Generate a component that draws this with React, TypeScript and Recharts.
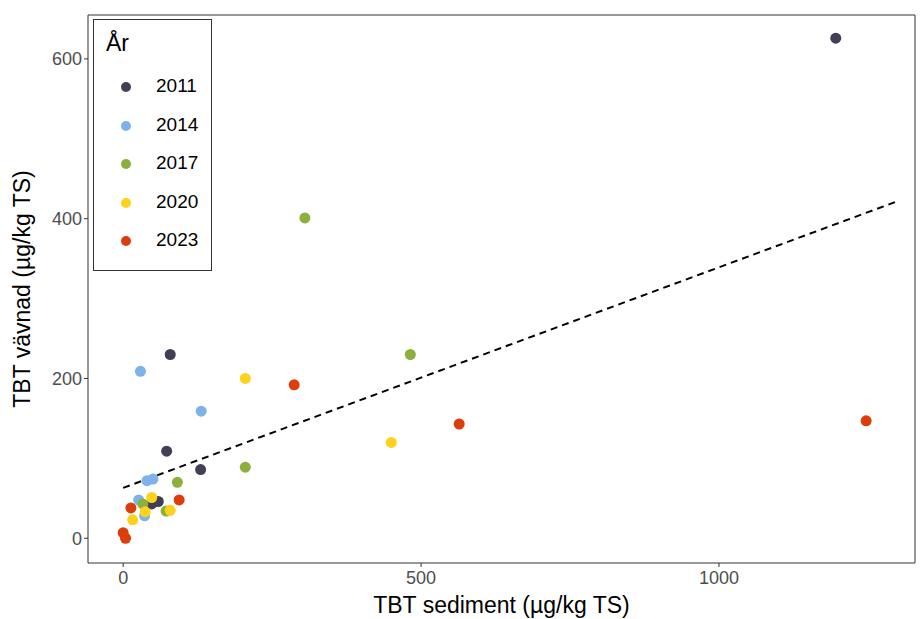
import {
  ScatterChart,
  Scatter,
  XAxis,
  YAxis,
  ReferenceArea,
  ReferenceLine,
} from "recharts";

type Pt = { x: number; y: number };

const YEARS = ["2011", "2014", "2017", "2020", "2023"];
const COLORS = ["#403f56", "#7db3e8", "#8db03c", "#fcd21c", "#dd3d0b"];

const y2011: Pt[] = [
  { x: 1196, y: 626 },
  { x: 79, y: 230 },
  { x: 73, y: 109 },
  { x: 130, y: 86 },
  { x: 59, y: 46 },
  { x: 48, y: 43 },
];
const y2014: Pt[] = [
  { x: 29, y: 209 },
  { x: 131, y: 159 },
  { x: 50, y: 74 },
  { x: 40, y: 72 },
  { x: 26, y: 48 },
  { x: 36, y: 28 },
];
const y2017: Pt[] = [
  { x: 305, y: 401 },
  { x: 482, y: 230 },
  { x: 205, y: 89 },
  { x: 91, y: 70 },
  { x: 33, y: 43 },
  { x: 72, y: 34 },
];
const y2020: Pt[] = [
  { x: 205, y: 200 },
  { x: 450, y: 120 },
  { x: 48, y: 51 },
  { x: 37, y: 33 },
  { x: 79, y: 35 },
  { x: 16, y: 23 },
];
const y2023: Pt[] = [
  { x: 287, y: 192 },
  { x: 564, y: 143 },
  { x: 1247, y: 147 },
  { x: 94, y: 48 },
  { x: 13, y: 38 },
  { x: 0, y: 7 },
  { x: 4, y: 0 },
];
const SERIES = [y2011, y2014, y2017, y2020, y2023];

// dashed linear fit, end points
const trend: Pt[] = [
  { x: 0, y: 63 },
  { x: 1300, y: 422 },
];

const xTicks = [0, 500, 1000];
const yTicks = [0, 200, 400, 600];
const X_DOMAIN: [number, number] = [-59, 1329];
const Y_DOMAIN: [number, number] = [-31, 655];

const FONT = "'Liberation Sans', Arial, sans-serif";

export default function App() {
  return (
    <div style={{ position: "absolute", left: 0, top: 0, width: 921, height: 619, fontFamily: FONT, background: "#fff" }}>
      <ScatterChart width={921} height={619} margin={{ top: 15, right: 6, bottom: 0, left: 0 }}>
        <XAxis
          type="number"
          dataKey="x"
          domain={X_DOMAIN}
          ticks={xTicks}
          allowDataOverflow
          height={56}
          axisLine={false}
          tickLine={{ stroke: "#333", strokeWidth: 1 }}
          tickSize={4}
          tick={{ fill: "#4d4d4d", fontSize: 18, fontFamily: FONT, dy: 2 }}
          label={{ value: "TBT sediment (µg/kg TS)", position: "insideBottom", offset: 6, fill: "#000", fontSize: 23, fontFamily: FONT }}
        />
        <YAxis
          type="number"
          dataKey="y"
          domain={Y_DOMAIN}
          ticks={yTicks}
          allowDataOverflow
          width={88}
          axisLine={false}
          tickLine={{ stroke: "#333", strokeWidth: 1 }}
          tickSize={4}
          tick={{ fill: "#4d4d4d", fontSize: 18, fontFamily: FONT }}
          label={{ value: "TBT vävnad (µg/kg TS)", angle: -90, position: "insideLeft", offset: 22, fill: "#000", fontSize: 23, fontFamily: FONT, style: { textAnchor: "middle" } }}
        />
        <ReferenceArea
          x1={X_DOMAIN[0]}
          x2={X_DOMAIN[1]}
          y1={Y_DOMAIN[0]}
          y2={Y_DOMAIN[1]}
          fill="none"
          stroke="#333"
          strokeWidth={1}
          ifOverflow="visible"
        />
        {SERIES.map((data, i) => (
          <Scatter
            key={YEARS[i]}
            name={YEARS[i]}
            data={data}
            fill={COLORS[i]}
            isAnimationActive={false}
            shape={(p: any) => <circle cx={p.cx} cy={p.cy} r={5.5} fill={COLORS[i]} />}
          />
        ))}
        <ReferenceLine
          segment={trend}
          stroke="#000"
          strokeWidth={2}
          strokeDasharray="7 5"
          ifOverflow="visible"
        />
      </ScatterChart>
      <div
        style={{
          position: "absolute",
          left: 93,
          top: 19,
          width: 119,
          height: 252,
          border: "1px solid #333",
          background: "#fff",
          boxSizing: "border-box",
        }}
      >
        <div style={{ position: "absolute", left: 12, top: 10, fontSize: 23, color: "#000" }}>År</div>
        {YEARS.map((yr, i) => (
          <div key={yr} style={{ position: "absolute", left: 0, top: 56 + i * 38.5, height: 22, width: 118 }}>
            <span
              style={{
                position: "absolute",
                left: 27,
                top: 6,
                width: 10,
                height: 10,
                borderRadius: 5,
                background: COLORS[i],
              }}
            />
            <span style={{ position: "absolute", left: 62, top: 0, fontSize: 19, color: "#000", lineHeight: "20px" }}>{yr}</span>
          </div>
        ))}
      </div>
    </div>
  );
}
